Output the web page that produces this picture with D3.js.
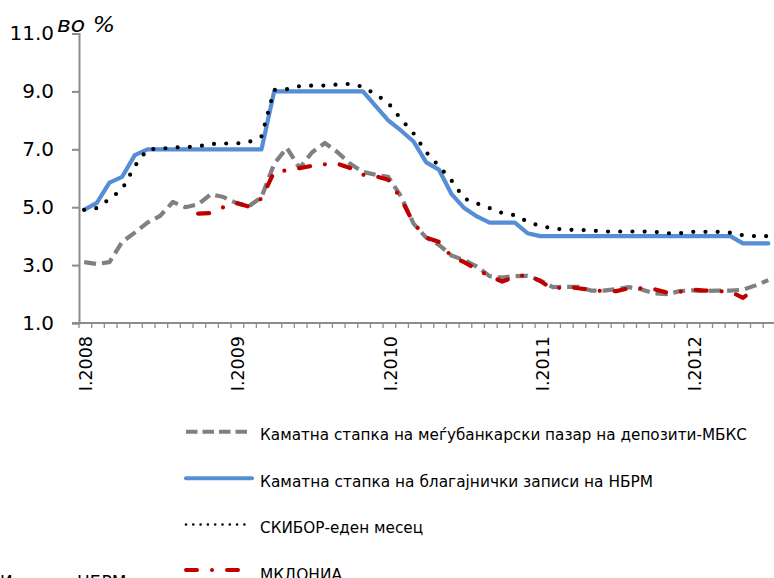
<!DOCTYPE html>
<html>
<head>
<meta charset="utf-8">
<script src="https://cdn.jsdelivr.net/npm/d3@7"></script>
<style>
  html, body { margin: 0; padding: 0; background: #fff; overflow: hidden; }
  svg { display: block; }
  text { font-family: "DejaVu Sans", Verdana, sans-serif; fill: #000; }
</style>
</head>
<body>
<svg id="chart" width="774" height="578"></svg>
<script>
// ---- data (Jan 2008 .. Jul 2012, monthly) ----
const categories = [
  "I.2008","II.2008","III.2008","IV.2008","V.2008","VI.2008","VII.2008","VIII.2008","IX.2008","X.2008","XI.2008","XII.2008",
  "I.2009","II.2009","III.2009","IV.2009","V.2009","VI.2009","VII.2009","VIII.2009","IX.2009","X.2009","XI.2009","XII.2009",
  "I.2010","II.2010","III.2010","IV.2010","V.2010","VI.2010","VII.2010","VIII.2010","IX.2010","X.2010","XI.2010","XII.2010",
  "I.2011","II.2011","III.2011","IV.2011","V.2011","VI.2011","VII.2011","VIII.2011","IX.2011","X.2011","XI.2011","XII.2011",
  "I.2012","II.2012","III.2012","IV.2012","V.2012","VI.2012","VII.2012"
];
const tickLabels = ["I.2008","I.2009","I.2010","I.2011","I.2012"];
const yTicks = [1, 3, 5, 7, 9, 11];

const mbks = [3.10,3.04,3.10,3.80,4.12,4.47,4.70,5.18,5.00,5.10,5.45,5.35,
              5.15,5.03,5.35,6.50,7.05,6.35,6.90,7.22,6.90,6.50,6.22,6.12,
              6.05,5.38,4.43,3.95,3.70,3.33,3.17,2.95,2.62,2.57,2.62,2.63,
              2.47,2.24,2.25,2.25,2.12,2.12,2.17,2.24,2.16,2.02,2.00,2.10,
              2.13,2.10,2.12,2.12,2.15,2.30,2.48];
const nbrm = [4.91,5.15,5.85,6.05,6.80,7.00,7.00,7.00,7.00,7.00,7.00,7.00,
              7.00,7.00,7.00,9.00,9.00,9.00,9.00,9.00,9.00,9.00,9.00,8.50,
              8.00,7.65,7.27,6.55,6.30,5.45,4.97,4.68,4.47,4.47,4.47,4.10,
              4.00,4.00,4.00,4.00,4.00,4.00,4.00,4.00,4.00,4.00,4.00,4.00,
              4.00,4.00,4.00,4.00,3.75,3.75,3.75];
const skibor = [4.91,4.97,5.28,5.62,6.42,7.00,7.02,7.06,7.08,7.10,7.18,7.20,
                7.20,7.25,7.45,9.05,9.08,9.18,9.20,9.20,9.24,9.26,9.16,8.90,
                8.60,8.05,7.55,6.90,6.42,5.92,5.30,5.13,4.97,4.80,4.72,4.50,
                4.35,4.27,4.22,4.22,4.20,4.16,4.16,4.16,4.16,4.15,4.10,4.10,
                4.15,4.15,4.15,4.12,4.03,4.00,4.00];
const mkdonia = [null,null,null,null,null,null,null,null,null,4.78,4.80,5.00,
                 5.15,5.02,5.30,6.22,6.27,6.35,6.43,6.48,6.50,6.35,6.12,6.07,
                 5.95,5.30,4.45,3.95,3.80,3.30,3.10,2.85,2.62,2.43,2.60,2.66,
                 2.45,2.17,2.26,2.20,2.14,2.10,2.10,2.20,2.20,2.17,2.05,2.08,
                 2.15,2.12,2.10,2.08,1.87,2.20,null];

const seriesNames = [
  "Каматна стапка на меѓубанкарски пазар на депозити-МБКС",
  "Каматна стапка на благајнички записи на НБРМ",
  "СКИБОР-еден месец",
  "МКДОНИА"
];
const unitLabel = "во %";
const sourceA = "Извор:";
const sourceB = "НБРМ";

// ---- layout ----
const svg = d3.select("#chart");
svg.append("rect").attr("width", 774).attr("height", 578).attr("fill", "#fff");

const left = 79, bandW = 12.67;
const x = d3.scaleBand().domain(categories.map((d, i) => i))
  .range([left, left + bandW * categories.length]).paddingInner(0).paddingOuter(0);
const y = d3.scaleLinear().domain([1, 11]).range([323, 33.5]);
const xc = i => x(i) + x.bandwidth() / 2 - 1.2;

const axisColor = "#8c8c8c";

// y axis
const yAxis = d3.axisLeft(y).tickValues(yTicks).tickFormat(d3.format(".1f")).tickSize(7).tickPadding(18);
const gy = svg.append("g").attr("transform", `translate(${left},0)`).call(yAxis);
gy.select(".domain").attr("stroke", axisColor).attr("stroke-width", 2);
gy.selectAll(".tick line").attr("stroke", axisColor).attr("stroke-width", 2);
gy.selectAll(".tick text").attr("font-size", 20).attr("font-family", "DejaVu Sans").attr("fill", "#000");

// x axis: line + ticks at band boundaries
const xEnd = left + bandW * categories.length;
svg.append("line").attr("x1", left - 7).attr("x2", xEnd).attr("y1", y(1)).attr("y2", y(1))
  .attr("stroke", axisColor).attr("stroke-width", 2);
svg.append("g").selectAll("line").data(d3.range(categories.length + 1)).join("line")
  .attr("x1", i => left + i * bandW).attr("x2", i => left + i * bandW)
  .attr("y1", y(1)).attr("y2", y(1) + 5)
  .attr("stroke", axisColor).attr("stroke-width", 1.3);

// x tick labels (rotated)
svg.append("g").selectAll("text").data(tickLabels).join("text")
  .attr("transform", d => `translate(${xc(categories.indexOf(d)) + 2},336) rotate(-90)`)
  .attr("text-anchor", "end").attr("dy", "0.36em")
  .attr("font-size", 17.5).text(d => d);

// unit label
svg.append("text").attr("x", 57).attr("y", 32).attr("font-size", 21)
  .attr("font-style", "italic").attr("textLength", 58).attr("lengthAdjust", "spacingAndGlyphs")
  .text(unitLabel);

// ---- series ----
const styles = [
  { data: mbks,    color: "#808080", width: 4.2, dash: "12,6",        cap: "butt"  },
  { data: nbrm,    color: "#558ed5", width: 4.2, dash: null,          cap: "round" },
  { data: skibor,  color: "#000000", width: 4.2, dash: "0,12.2",      cap: "round" },
  { data: mkdonia, color: "#c00000", width: 4.2, dash: "11,15,0,15",  cap: "round" }
];
const line = d3.line().defined(d => d != null).x((d, i) => xc(i)).y(d => y(d));

styles.forEach(s => {
  svg.append("path").datum(s.data)
    .attr("d", line)
    .attr("fill", "none")
    .attr("stroke", s.color)
    .attr("stroke-width", s.width)
    .attr("stroke-linejoin", "round")
    .attr("stroke-linecap", s.cap)
    .attr("stroke-dasharray", s.dash);
});

// ---- legend ----
const legendRows = [
  { ly: 431.7, ty: 440,   x2: 252, tl: 487, st: styles[0], dash: "11.5,5",   w: 4 },
  { ly: 478.3, ty: 486.7, x2: 252, tl: 393, st: styles[1], dash: null,       w: 4 },
  { ly: 524.5, ty: 533.3, x2: 245, tl: 163, st: styles[2], dash: "0,7.3",    w: 2.6 },
  { ly: 570,   ty: 579.5, x2: 243, tl: 82,  st: styles[3], dash: "11,15,0,15", w: 4 }
];
const lg = svg.append("g");
legendRows.forEach((r, i) => {
  lg.append("line").attr("x1", 186).attr("x2", r.x2).attr("y1", r.ly).attr("y2", r.ly)
    .attr("stroke", r.st.color).attr("stroke-width", r.w)
    .attr("stroke-linecap", r.st.cap).attr("stroke-dasharray", r.dash);
  lg.append("text").attr("x", 260).attr("y", r.ty).attr("font-size", 16.5)
    .attr("textLength", r.tl).attr("lengthAdjust", "spacingAndGlyphs")
    .text(seriesNames[i]);
});

// source (cut off at bottom, as in the reference)
svg.append("text").attr("x", 0).attr("y", 587.5).attr("font-size", 17).attr("fill", "#404040").text(sourceA);
svg.append("text").attr("x", 77).attr("y", 587.5).attr("font-size", 17).attr("fill", "#404040").text(sourceB);
</script>
</body>
</html>
